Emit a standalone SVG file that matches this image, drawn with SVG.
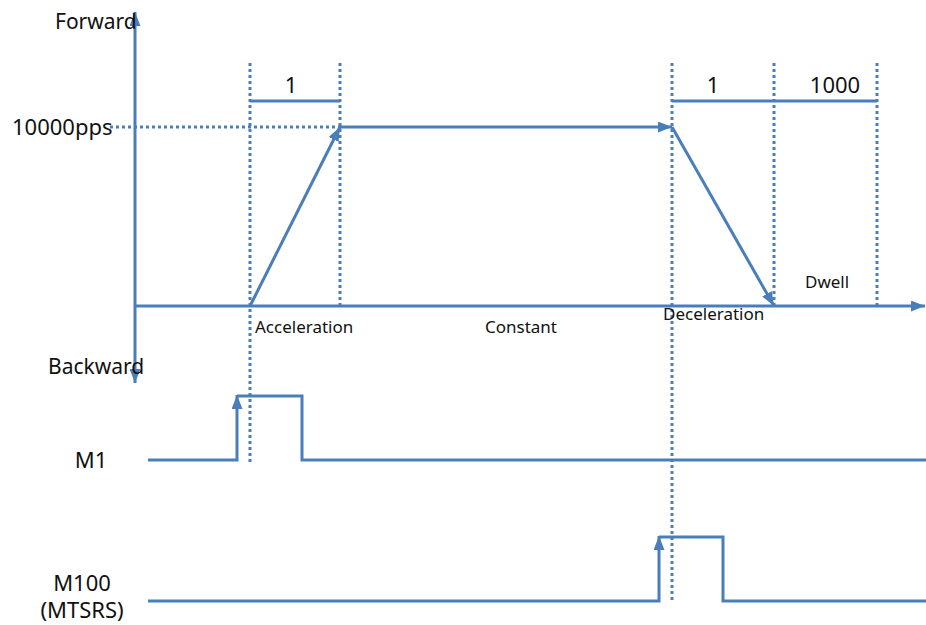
<svg xmlns="http://www.w3.org/2000/svg" width="926" height="625" viewBox="0 0 926 625">
<style>
.ln{fill:none;stroke:#4a7ebb;stroke-width:3}
.dot{fill:none;stroke:#4a7ebb;stroke-width:3;stroke-dasharray:3 3}
.t{font-family:"Noto Sans","Open Sans",sans-serif;fill:#111}
.big{font-size:21px}
.lg{font-size:22px}
.sm{font-size:17px}
</style>
<defs>
<marker id="ah" viewBox="0 0 14 11" refX="14" refY="5.5" markerWidth="14" markerHeight="11" markerUnits="userSpaceOnUse" orient="auto-start-reverse">
<path d="M0,0 L14,5.5 L0,11 z" fill="#4a7ebb"/>
</marker>
</defs>
<g id="guides">
<path class="dot" d="M250,63 V462"/>
<path class="dot" d="M340,63 V306"/>
<path class="dot" d="M672,63 V602"/>
<path class="dot" d="M774,63 V306"/>
<path class="dot" d="M877,63 V306"/>
<path class="dot" d="M110,127 H340"/>
</g>
<g id="axes">
<path class="ln" d="M135,383 V12" marker-start="url(#ah)" marker-end="url(#ah)"/>
<path class="ln" d="M135,306 H925" marker-end="url(#ah)"/>
</g>
<g id="dimensions">
<path class="ln" d="M250,101 H340"/>
<path class="ln" d="M672,101 H877"/>
</g>
<g id="connectors">
<path class="ln" d="M250,306 L340,127" marker-end="url(#ah)"/>
<path class="ln" d="M340,127 H672" marker-end="url(#ah)"/>
<path class="ln" d="M672,127 L774,306" marker-end="url(#ah)"/>
<path class="ln" d="M148,460 H237 V395" marker-end="url(#ah)"/>
<path class="ln" d="M237,396 H302 V460 H926"/>
<path class="ln" d="M148,601 H659 V536" marker-end="url(#ah)"/>
<path class="ln" d="M659,537 H723 V601 H926"/>
</g>
<g id="labels">
<text class="t big" x="55" y="29">Forward</text>
<text class="t lg" x="12" y="135">10000pps</text>
<text class="t big" x="48" y="374">Backward</text>
<text class="t lg" x="291" y="93" text-anchor="middle">1</text>
<text class="t lg" x="713" y="93" text-anchor="middle">1</text>
<text class="t lg" x="835" y="93" text-anchor="middle">1000</text>
<text class="t sm" x="255" y="333">Acceleration</text>
<text class="t sm" x="485" y="333">Constant</text>
<text class="t sm" x="663" y="320">Deceleration</text>
<text class="t sm" x="805" y="288">Dwell</text>
<text class="t lg" x="91" y="468" text-anchor="middle">M1</text>
<text class="t lg" x="82" y="591" text-anchor="middle">M100</text>
<text class="t lg" x="82" y="618" text-anchor="middle">(MTSRS)</text>
</g>
</svg>
